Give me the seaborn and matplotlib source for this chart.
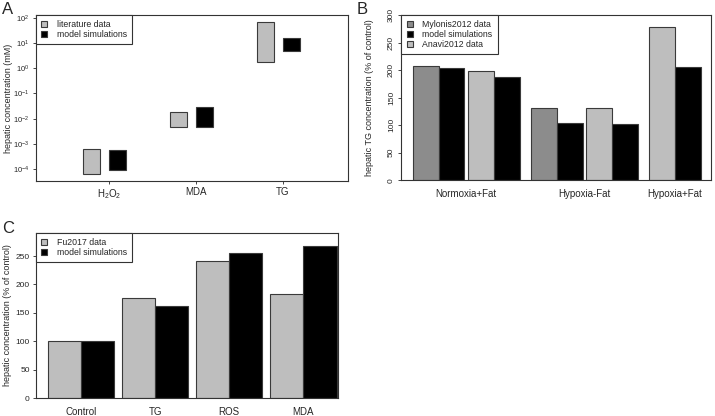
import numpy as np
import pandas as pd
import matplotlib
matplotlib.use("Agg")
import matplotlib.pyplot as plt
from matplotlib.patches import Patch
import seaborn as sns

# panel A: hepatic concentration ranges (mM)
species = ["H$_2$O$_2$", "MDA", "TG"]
lit_low = [6.2e-5, 4.5e-3, 1.8]
lit_high = [6.2e-4, 1.8e-2, 69]
sim_low = [9e-5, 4.5e-3, 5.0]
sim_high = [5.6e-4, 2.9e-2, 16]

# panel B: hepatic TG (% of control)
conditions = ["Normoxia+Fat", "Hypoxia-Fat", "Hypoxia+Fat"]
mylonis = [207, 132, None]
mylonis_sim = [203, 104, None]
anavi = [198, 131, 278]
anavi_sim = [187, 103, 205]

# panel C: Fu2017 comparison (% of control)
markers = ["Control", "TG", "ROS", "MDA"]
fu = [100, 177, 242, 183]
fu_sim = [100, 162, 255, 268]

sns.set_theme(style="ticks")
plt.rcParams["font.family"] = ["Liberation Sans", "DejaVu Sans"]
plt.rcParams["mathtext.fontset"] = "custom"
plt.rcParams["mathtext.rm"] = "Liberation Sans"
plt.rcParams["mathtext.it"] = "Liberation Sans:italic"
plt.rcParams["axes.linewidth"] = 0.8
plt.rcParams["axes.edgecolor"] = "#333333"

light = "#bebebe"
mid = "#8c8c8c"
edge = "#3a3a3a"
fs_tick = 6
fs_lab = 6.5

fig = plt.figure(figsize=(7.15, 4.16), dpi=100)
axA = fig.add_axes([0.0503, 0.5649, 0.4364, 0.399])
axB = fig.add_axes([0.5613, 0.5666, 0.4331, 0.3973])
axC = fig.add_axes([0.0503, 0.0425, 0.4224, 0.3981])


def legend(ax, labels, colors):
    handles = [Patch(facecolor=c, edgecolor=edge, linewidth=0.8) for c in colors]
    leg = ax.legend(handles, labels, loc="upper left", borderaxespad=0,
                    fancybox=False, frameon=True, fontsize=6.3,
                    handlelength=0.7, handleheight=0.7, handletextpad=1.1,
                    labelspacing=0.1, borderpad=0.6)
    leg.get_frame().set_edgecolor("#333333")
    leg.get_frame().set_linewidth(0.8)
    leg.get_frame().set_alpha(1)


# ---- A ----
xs = np.arange(1, len(species) + 1)
lo, hi = np.array(lit_low), np.array(lit_high)
axA.bar(xs - 0.30, hi - lo, bottom=lo, width=0.2, align="edge",
        color=light, edgecolor=edge, linewidth=0.8)
lo, hi = np.array(sim_low), np.array(sim_high)
axA.bar(xs, hi - lo, bottom=lo, width=0.2, align="edge",
        color="black", edgecolor=edge, linewidth=0.8)
axA.set_yscale("log")
axA.set_ylim(10 ** -4.48, 10 ** 2.12)
axA.set_xlim(0.16, 3.75)
axA.set_xticks(xs)
axA.set_xticklabels(species, fontsize=fs_lab + 0.5)
axA.set_yticks([10.0 ** k for k in range(-4, 3)])
axA.set_yticklabels([f"$10^{{{k}}}$" for k in range(-4, 3)], fontsize=fs_tick - 0.5)
axA.yaxis.set_minor_locator(matplotlib.ticker.LogLocator(base=10, subs=np.arange(2, 10)))
axA.tick_params(axis="y", which="minor", length=1.5, width=0.5)
axA.tick_params(axis="both", which="major", length=2.5, width=0.6, pad=2)
axA.set_ylabel("hepatic concentration (mM)", fontsize=fs_lab)
axA.yaxis.set_label_coords(-0.075, 0.5)
legend(axA, ["literature data", "model simulations"], [light, "black"])
fig.text(0.003, 0.995, "A", fontsize=12, va="top")

# ---- B ----
pos, vals, cols = [], [], []
centers = []
x = 0.45
for i in range(len(conditions)):
    if i > 0:
        x += 0.45
    start = x
    pairs = []
    if mylonis[i] is not None:
        pairs.append((mylonis[i], mid, mylonis_sim[i]))
    pairs.append((anavi[i], light, anavi_sim[i]))
    for j, (v, c, s) in enumerate(pairs):
        if j > 0:
            x += 0.15
        pos += [x, x + 1]
        vals += [v, s]
        cols += [c, "black"]
        x += 2
    centers.append((start + x) / 2)
axB.bar(pos, vals, width=1, align="edge", color=cols, edgecolor=edge, linewidth=0.8)
axB.set_xlim(0, 12.05)
axB.set_ylim(0, 300)
axB.set_xticks(centers)
axB.set_xticklabels(conditions, fontsize=fs_lab + 0.5)
axB.tick_params(axis="x", length=0, pad=6)
axB.set_yticks(range(0, 301, 50))
axB.tick_params(axis="y", length=2.5, width=0.6, pad=2, labelsize=fs_tick)
for t in axB.get_yticklabels():
    t.set_rotation(90)
    t.set_va("center")
axB.set_ylabel("hepatic TG concentration (% of control)", fontsize=fs_lab)
axB.yaxis.set_label_coords(-0.087, 0.5)
legend(axB, ["Mylonis2012 data", "model simulations", "Anavi2012 data"],
       [mid, "black", light])
fig.text(0.499, 0.995, "B", fontsize=12, va="top")

# ---- C ----
dfC = pd.DataFrame({
    "marker": markers * 2,
    "source": ["Fu2017 data"] * len(markers) + ["model simulations"] * len(markers),
    "value": fu + fu_sim,
})
sns.barplot(data=dfC, x="marker", y="value", hue="source", ax=axC,
            palette={"Fu2017 data": light, "model simulations": "black"},
            width=0.9, gap=0, edgecolor=edge, linewidth=0.8, saturation=1,
            legend=False)
axC.set_xlim(-0.61, 3.47)
axC.set_ylim(0, 291)
axC.set_yticks(range(0, 251, 50))
axC.tick_params(axis="y", length=2.5, width=0.6, pad=2, labelsize=fs_tick)
axC.tick_params(axis="x", length=0, pad=6, labelsize=fs_lab + 0.5)
axC.set_xlabel("")
axC.set_ylabel("hepatic concentration (% of control)", fontsize=fs_lab)
axC.yaxis.set_label_coords(-0.08, 0.5)
legend(axC, ["Fu2017 data", "model simulations"], [light, "black"])
fig.text(0.003, 0.468, "C", fontsize=12, va="top")

for ax in (axA, axB, axC):
    for s in ax.spines.values():
        s.set_visible(True)

fig.savefig("out.png", dpi=100)
